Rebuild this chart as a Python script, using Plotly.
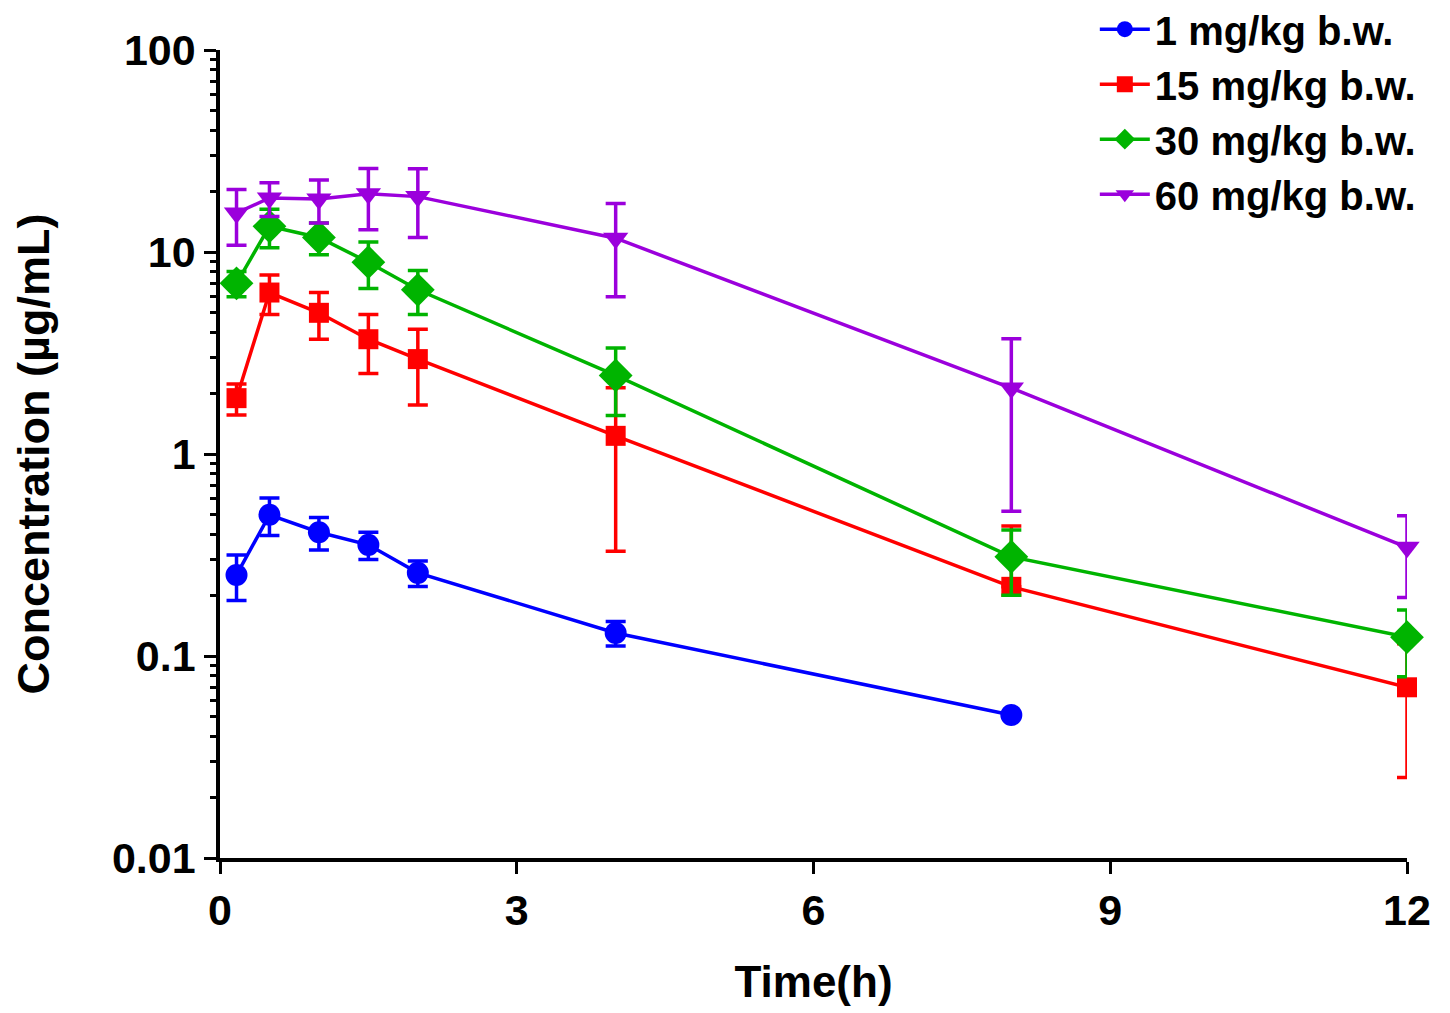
import plotly.graph_objects as go

# sampling times (h)
time_h = [0.167, 0.5, 1, 1.5, 2, 4, 8, 12]

# mean concentrations (µg/mL) and SD for each dose
dose_labels = ["1 mg/kg b.w.", "15 mg/kg b.w.", "30 mg/kg b.w.", "60 mg/kg b.w."]

conc_1 = [0.252, 0.50, 0.41, 0.355, 0.258, 0.130, 0.051, None]
sd_1 = [0.064, 0.105, 0.075, 0.055, 0.037, 0.018, 0.0, 0.0]

conc_15 = [1.89, 6.3, 5.0, 3.7, 2.95, 1.23, 0.22, 0.070]
sd_15 = [0.33, 1.4, 1.3, 1.2, 1.2, 0.9, 0.22, 0.045]

conc_30 = [7.0, 13.4, 11.8, 8.9, 6.5, 2.45, 0.31, 0.124]
sd_30 = [1.0, 2.9, 2.1, 2.3, 1.6, 0.9, 0.11, 0.045]

conc_60 = [15.6, 18.5, 18.3, 19.4, 18.8, 11.7, 2.12, 0.345]
sd_60 = [4.8, 3.5, 4.4, 6.5, 7.0, 5.7, 1.6, 0.15]

colors = ["#0000FF", "#FF0000", "#00B400", "#9B00DC"]
symbols = ["circle", "square", "diamond", "triangle-down"]
sizes = [22, 20, 26, 22]

FONT = "Liberation Sans, Arial, sans-serif"

fig = go.Figure()
for label, conc, sd, col, sym, sz in zip(dose_labels, [conc_1, conc_15, conc_30, conc_60],
                                         [sd_1, sd_15, sd_30, sd_60], colors, symbols, sizes):
    # on a log axis the lower bar is not drawn when mean - SD <= 0
    minus = [(s if (c is not None and s < c) else 0) for c, s in zip(conc, sd)]
    fig.add_trace(go.Scatter(
        x=time_h, y=conc, name=label, mode="lines+markers",
        line=dict(color=col, width=3.5),
        marker=dict(symbol=sym, size=sz, color=col),
        error_y=dict(type="data", symmetric=False, array=sd, arrayminus=minus,
                     color=col, thickness=3.5, width=10),
        cliponaxis=False,
    ))

minor_vals = [m * 10 ** e for e in range(-2, 2) for m in range(2, 10)]

fig.update_layout(
    width=1450, height=1013,
    paper_bgcolor="white", plot_bgcolor="white",
    margin=dict(l=212, r=51, t=42, b=163, autoexpand=False),
    font=dict(family=FONT, color="black"),
    legend=dict(x=0.737, y=1.066, xanchor="left", yanchor="top",
                font=dict(size=40, family=FONT, color="black", weight="bold"),
                bgcolor="rgba(0,0,0,0)", itemwidth=50, tracegroupgap=0),
    xaxis=dict(
        range=[0, 12], tickmode="array", tickvals=[0, 3, 6, 9, 12],
        showline=True, linecolor="black", linewidth=3.5,
        ticks="outside", ticklen=12, tickwidth=3, tickcolor="black",
        showgrid=False, zeroline=False,
        tickfont=dict(size=43, family=FONT, color="black", weight="bold"),
        title=dict(text="Time(h)", standoff=34,
                   font=dict(size=44, family=FONT, color="black", weight="bold")),
    ),
    yaxis=dict(
        type="log", range=[-2, 2], tickmode="array",
        tickvals=[0.01, 0.1, 1, 10, 100], ticktext=["0.01", "0.1", "1", "10", "100"],
        showline=True, linecolor="black", linewidth=3.5,
        ticks="outside", ticklen=12, tickwidth=3, tickcolor="black",
        minor=dict(tickmode="array", tickvals=minor_vals, ticks="outside",
                   ticklen=6, tickwidth=2.5, tickcolor="black", showgrid=False),
        showgrid=False, zeroline=False,
        tickfont=dict(size=43, family=FONT, color="black", weight="bold"),
        title=dict(text="Concentration (µg/mL)", standoff=50,
                   font=dict(size=45, family=FONT, color="black", weight="bold")),
    ),
)

fig.write_html("out.html")
